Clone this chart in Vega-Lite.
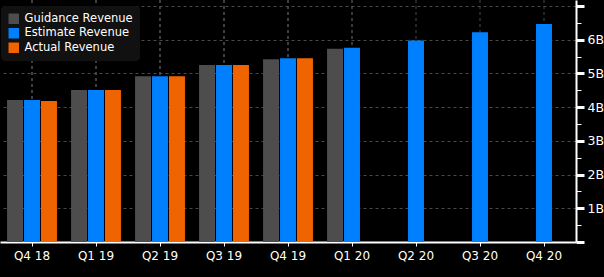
{
  "$schema": "https://vega.github.io/schema/vega-lite/v6.json",
  "width": 576,
  "height": 242,
  "autosize": {"type": "none"},
  "padding": {"left": 0, "top": 0, "right": 28, "bottom": 35},
  "background": "#000000",
  "config": {
    "view": {"stroke": null},
    "font": "DejaVu Sans"
  },
  "data": {
    "values": [
      {"q": "Q4 18", "series": "Guidance Revenue", "value": 4.21},
      {"q": "Q4 18", "series": "Estimate Revenue", "value": 4.21},
      {"q": "Q4 18", "series": "Actual Revenue", "value": 4.18},
      {"q": "Q1 19", "series": "Guidance Revenue", "value": 4.51},
      {"q": "Q1 19", "series": "Estimate Revenue", "value": 4.51},
      {"q": "Q1 19", "series": "Actual Revenue", "value": 4.51},
      {"q": "Q2 19", "series": "Guidance Revenue", "value": 4.92},
      {"q": "Q2 19", "series": "Estimate Revenue", "value": 4.92},
      {"q": "Q2 19", "series": "Actual Revenue", "value": 4.92},
      {"q": "Q3 19", "series": "Guidance Revenue", "value": 5.25},
      {"q": "Q3 19", "series": "Estimate Revenue", "value": 5.25},
      {"q": "Q3 19", "series": "Actual Revenue", "value": 5.25},
      {"q": "Q4 19", "series": "Guidance Revenue", "value": 5.42},
      {"q": "Q4 19", "series": "Estimate Revenue", "value": 5.45},
      {"q": "Q4 19", "series": "Actual Revenue", "value": 5.45},
      {"q": "Q1 20", "series": "Guidance Revenue", "value": 5.73},
      {"q": "Q1 20", "series": "Estimate Revenue", "value": 5.76},
      {"q": "Q2 20", "series": "Estimate Revenue", "value": 5.98},
      {"q": "Q3 20", "series": "Estimate Revenue", "value": 6.22},
      {"q": "Q4 20", "series": "Estimate Revenue", "value": 6.47}
    ]
  },
  "encoding": {
    "x": {
      "field": "q",
      "type": "nominal",
      "sort": null,
      "scale": {"paddingInner": 0.22, "paddingOuter": 0.11},
      "axis": {
        "title": null,
        "labelAngle": 0,
        "labelColor": "#ffffff",
        "labelFontSize": 12,
        "labelPadding": 4,
        "tickColor": "#ffffff",
        "tickSize": 4,
        "domainColor": "#ffffff",
        "domainWidth": 2,
        "grid": false
      }
    }
  },
  "layer": [
    {
      "mark": {"type": "rule", "color": "#4a4a4a", "strokeDash": [3, 3], "strokeWidth": 1},
      "encoding": {}
    },
    {
      "mark": {"type": "bar"},
      "encoding": {
        "xOffset": {
          "field": "series",
          "type": "nominal",
          "scale": {"domain": ["Guidance Revenue", "Estimate Revenue", "Actual Revenue"], "paddingInner": 0.06, "paddingOuter": 0}
        },
        "y": {
          "field": "value",
          "type": "quantitative",
          "scale": {"domain": [0, 7.18], "nice": false, "zero": true},
          "axis": {
            "orient": "right",
            "title": null,
            "values": [0, 0.5, 1, 1.5, 2, 2.5, 3, 3.5, 4, 4.5, 5, 5.5, 6, 6.5, 7],
            "labelExpr": "(datum.value % 1 === 0 && datum.value >= 1 && datum.value <= 6) ? datum.value + 'B' : ''",
            "labelColor": "#ffffff",
            "labelFontSize": 12.5,
            "labelPadding": 3,
            "tickColor": "#ffffff",
            "tickSize": {"condition": {"test": "datum.value % 1 === 0", "value": 8}, "value": 5},
            "tickWidth": {"condition": {"test": "datum.value % 1 === 0", "value": 3}, "value": 1},
            "domainColor": "#ffffff",
            "domainWidth": 2,
            "grid": true,
            "gridColor": "#4a4a4a",
            "gridDash": [3, 3],
            "gridWidth": 1,
            "gridOpacity": {"condition": {"test": "datum.value % 1 === 0 && datum.value > 0", "value": 1}, "value": 0}
          }
        },
        "color": {
          "field": "series",
          "type": "nominal",
          "scale": {
            "domain": ["Guidance Revenue", "Estimate Revenue", "Actual Revenue"],
            "range": ["#4d4d4d", "#0080ff", "#ef6400"]
          },
          "legend": {
            "title": null,
            "orient": "none",
            "legendX": 1,
            "legendY": 6,
            "fillColor": "#111111",
            "cornerRadius": 4,
            "padding": 7,
            "symbolType": "square",
            "symbolSize": 110,
            "symbolStrokeWidth": 0,
            "symbolOpacity": 1,
            "labelColor": "#ffffff",
            "labelFontSize": 11.5,
            "rowPadding": 1.5,
            "labelOffset": 5
          }
        }
      }
    }
  ]
}
